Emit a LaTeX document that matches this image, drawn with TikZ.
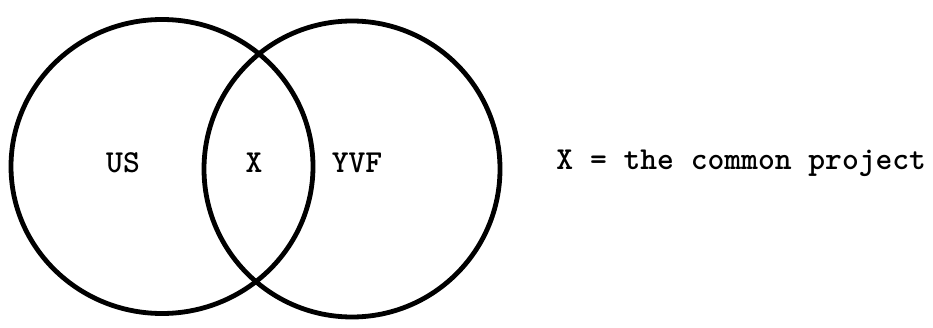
\documentclass[tikz,border=0pt]{standalone}
\usepackage{tikz}
\usetikzlibrary{shapes.geometric}

\begin{document}
\begin{tikzpicture}[x=1pt, y=1pt, line width=4.8pt,
    venn/.style={draw, ellipse, inner sep=0pt},
    lbl/.style={font=\fontsize{32}{37}\selectfont\ttfamily\bfseries, inner sep=0pt}]
    % 画布范围
    \useasboundingbox (0, 0) rectangle (933, 327);
    
    % 两个相交的圆
    \node[venn, minimum width=302pt, minimum height=294pt] (us) at (162, 160.5) {};
    \node[venn, minimum width=296pt, minimum height=296pt] (yvf) at (352, 158) {};
    
    % 圆内文字
    \node[lbl] (tus) at (123, 164) {US};
    \node[lbl] (tx) at (254, 164) {X};
    \node[lbl] (tyvf) at (357, 164) {YVF};
    
    % 右侧说明
    \node[lbl, anchor=west] (note) at (554, 164) {X = the common project};
\end{tikzpicture}
\end{document}
